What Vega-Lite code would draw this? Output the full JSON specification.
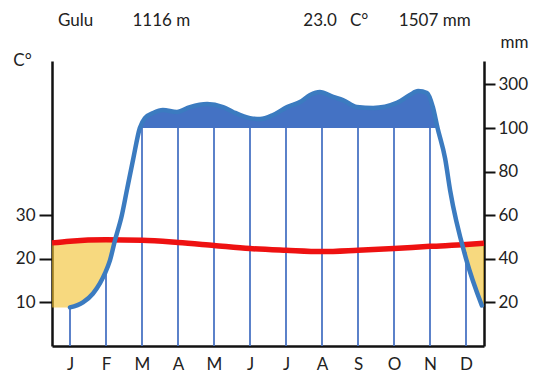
{
  "$schema": "https://vega.github.io/schema/vega-lite/v6.json",
  "width": 432,
  "height": 285,
  "autosize": "none",
  "padding": {"left": 52, "top": 61, "right": 52, "bottom": 26},
  "background": "white",
  "config": {"view": {"stroke": null}, "font": "Lato", "axis": {"grid": false}},
  "title": {
    "text": "Gulu\u00a0\u00a0\u00a0\u00a0\u00a0\u00a0\u00a0\u00a0\u00a01116 m\u00a0\u00a0\u00a0\u00a0\u00a0\u00a0\u00a0\u00a0\u00a0\u00a0\u00a0\u00a0\u00a0\u00a0\u00a0\u00a0\u00a0\u00a0\u00a0\u00a0\u00a0\u00a0\u00a0\u00a0\u00a0\u00a023.0\u00a0\u00a0\u00a0C°\u00a0\u00a0\u00a0\u00a0\u00a0\u00a0\u00a01507 mm",
    "anchor": "start",
    "frame": "group",
    "font": "Lato",
    "fontSize": 17,
    "fontWeight": "normal",
    "color": "#222222",
    "dx": 6,
    "offset": 3
  },
  "datasets": {
    "temp": [
      {"m": 0, "t": 23.7}, {"m": 0.5, "t": 24.1}, {"m": 1.5, "t": 24.4}, {"m": 2.5, "t": 24.3},
      {"m": 3.5, "t": 23.8}, {"m": 4.5, "t": 23.1}, {"m": 5.5, "t": 22.4}, {"m": 6.5, "t": 22.0},
      {"m": 7.5, "t": 21.7}, {"m": 8.5, "t": 22.0}, {"m": 9.5, "t": 22.4}, {"m": 10.5, "t": 22.9},
      {"m": 11.5, "t": 23.3}, {"m": 12, "t": 23.6}
    ],
    "precip": [
      {"m": 0.5, "p": 17.7}, {"m": 0.86, "p": 20.0}, {"m": 1.14, "p": 24.1}, {"m": 1.33, "p": 28.7},
      {"m": 1.47, "p": 33.3}, {"m": 1.61, "p": 39.3}, {"m": 1.75, "p": 48.5}, {"m": 1.94, "p": 60.0},
      {"m": 2.08, "p": 71.5}, {"m": 2.25, "p": 85.3}, {"m": 2.44, "p": 100}, {"m": 2.58, "p": 145},
      {"m": 2.81, "p": 168}, {"m": 3.08, "p": 182}, {"m": 3.47, "p": 173}, {"m": 3.83, "p": 195},
      {"m": 4.31, "p": 209}, {"m": 4.75, "p": 195}, {"m": 5.03, "p": 173}, {"m": 5.5, "p": 145},
      {"m": 5.78, "p": 141}, {"m": 6.14, "p": 159}, {"m": 6.53, "p": 195}, {"m": 6.89, "p": 218},
      {"m": 7.17, "p": 250}, {"m": 7.44, "p": 264}, {"m": 7.81, "p": 241}, {"m": 8.08, "p": 227},
      {"m": 8.47, "p": 195}, {"m": 8.92, "p": 191}, {"m": 9.58, "p": 214}, {"m": 9.94, "p": 250},
      {"m": 10.17, "p": 268}, {"m": 10.42, "p": 259}, {"m": 10.58, "p": 195}, {"m": 10.71, "p": 100},
      {"m": 10.92, "p": 86}, {"m": 11.06, "p": 71.3}, {"m": 11.5, "p": 40.1}, {"m": 11.94, "p": 18.6}
    ],
    "months": [
      {"m": 0.5, "top": 17.7}, {"m": 1.5, "top": 34}, {"m": 2.5, "top": 100}, {"m": 3.5, "top": 100},
      {"m": 4.5, "top": 100}, {"m": 5.5, "top": 100}, {"m": 6.5, "top": 100}, {"m": 7.5, "top": 100},
      {"m": 8.5, "top": 100}, {"m": 9.5, "top": 100}, {"m": 10.5, "top": 100}, {"m": 11.5, "top": 43}
    ],
    "arid": [
      {"seg": "a", "m": 0, "t": 23.7, "p": 17.7}, {"seg": "a", "m": 0.5, "t": 24.1, "p": 17.7},
      {"seg": "a", "m": 0.86, "t": 24.3, "p": 20.0}, {"seg": "a", "m": 1.14, "t": 24.4, "p": 24.1},
      {"seg": "a", "m": 1.33, "t": 24.4, "p": 28.7}, {"seg": "a", "m": 1.47, "t": 24.4, "p": 33.3},
      {"seg": "a", "m": 1.61, "t": 24.4, "p": 39.3}, {"seg": "a", "m": 1.72, "t": 24.4, "p": 48.8},
      {"seg": "b", "m": 11.41, "t": 23.2, "p": 46.4}, {"seg": "b", "m": 11.5, "t": 23.3, "p": 40.1},
      {"seg": "b", "m": 11.94, "t": 23.55, "p": 18.6}, {"seg": "b", "m": 12, "t": 23.6, "p": 18.0}
    ]
  },
  "encoding": {
    "x": {
      "field": "m", "type": "quantitative",
      "scale": {"domain": [0, 12], "nice": false, "zero": false},
      "axis": {
        "orient": "bottom", "title": null,
        "values": [0.5, 1.5, 2.5, 3.5, 4.5, 5.5, 6.5, 7.5, 8.5, 9.5, 10.5, 11.5],
        "labelExpr": "['J','F','M','A','M','J','J','A','S','O','N','D'][floor(datum.value)]",
        "ticks": false, "domainColor": "#111111", "domainWidth": 2.5,
        "labelFont": "Lato", "labelFontSize": 17, "labelColor": "#222222", "labelPadding": 10,
        "labelFlush": false, "labelOverlap": false
      }
    }
  },
  "layer": [
    {
      "data": {"name": "months"},
      "mark": {"type": "rule", "color": "#4a74c4", "strokeWidth": 1.8},
      "encoding": {
        "y": {"field": "top", "type": "quantitative",
          "scale": {"domain": [0, 100, 300, 404], "range": [285, 67, 23, 0], "nice": false, "zero": false},
          "axis": null},
        "y2": {"datum": 0}
      }
    },
    {
      "layer": [
        {
          "data": {"name": "arid"},
          "transform": [{"calculate": "datum.p / 2", "as": "pc"}],
          "mark": {"type": "area", "color": "#f2bf2a", "opacity": 0.6, "interpolate": "monotone"},
          "encoding": {
            "y": {"field": "t", "type": "quantitative"},
            "y2": {"field": "pc"},
            "detail": {"field": "seg"}
          }
        },
        {
          "data": {"name": "temp"},
          "mark": {"type": "line", "color": "#ee1111", "strokeWidth": 5.5, "interpolate": "monotone"},
          "encoding": {
            "y": {
              "field": "t", "type": "quantitative",
              "scale": {"domain": [0, 65.5], "nice": false, "zero": true},
              "axis": {
                "orient": "left", "values": [10, 20, 30],
                "domainColor": "#111111", "domainWidth": 2.5,
                "tickColor": "#111111", "tickWidth": 2, "tickSize": 13,
                "labelFont": "Lato", "labelFontSize": 17, "labelColor": "#222222", "labelPadding": 4,
                "title": "C°", "titleAngle": 0, "titleX": -30, "titleY": 4,
                "titleAlign": "center", "titleBaseline": "alphabetic",
                "titleFont": "Lato", "titleFontSize": 17, "titleFontWeight": "normal", "titleColor": "#222222"
              }
            }
          }
        }
      ]
    },
    {
      "layer": [
        {
          "data": {"name": "precip"},
          "transform": [{"filter": "datum.p >= 100"}],
          "mark": {"type": "area", "color": "#4472c4", "interpolate": "monotone"},
          "encoding": {
            "y": {"field": "p", "type": "quantitative"},
            "y2": {"datum": 100}
          }
        },
        {
          "data": {"name": "precip"},
          "mark": {"type": "line", "color": "#3b7bc0", "strokeWidth": 4.5, "interpolate": "monotone", "strokeCap": "round", "strokeJoin": "round"},
          "encoding": {
            "y": {
              "field": "p", "type": "quantitative",
              "scale": {"domain": [0, 100, 300, 404], "range": [285, 67, 23, 0], "nice": false, "zero": false},
              "axis": {
                "orient": "right", "values": [20, 40, 60, 80, 100, 300],
                "domainColor": "#111111", "domainWidth": 2.5,
                "tickColor": "#111111", "tickWidth": 2, "tickSize": 11,
                "labelFont": "Lato", "labelFontSize": 17, "labelColor": "#222222", "labelPadding": 3,
                "title": "mm", "titleAngle": 0, "titleX": 30, "titleY": -14,
                "titleAlign": "center", "titleBaseline": "alphabetic",
                "titleFont": "Lato", "titleFontSize": 17, "titleFontWeight": "normal", "titleColor": "#222222"
              }
            }
          }
        }
      ]
    }
  ],
  "resolve": {"scale": {"y": "independent"}, "axis": {"y": "independent"}}
}
